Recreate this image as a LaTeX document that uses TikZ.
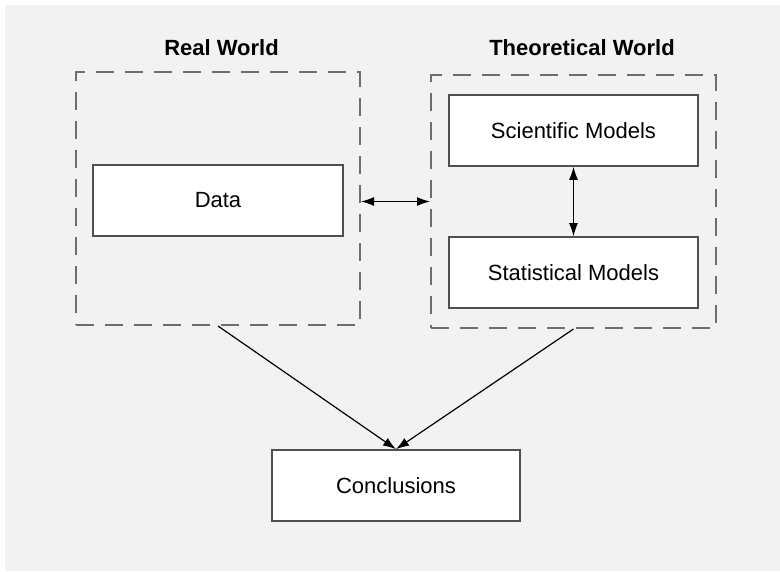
\documentclass[tikz,border=0pt]{standalone}
\usepackage{fontspec}
\setmainfont{Liberation Sans}
\usetikzlibrary{arrows.meta}
\definecolor{bgc}{HTML}{F2F2F2}
\definecolor{boxc}{HTML}{505050}
\definecolor{dashc}{HTML}{6E6E6E}
\begin{document}
\begin{tikzpicture}[x=1pt,y=-1pt,
  txt/.style={font=\fontsize{22}{26}\selectfont},
  ttl/.style={font=\fontsize{22}{26}\selectfont\bfseries},
  region/.style={draw=dashc,line width=2pt,dash pattern=on 18pt off 11pt,minimum width=284pt,minimum height=253pt,inner sep=0pt},
  modbox/.style={draw=boxc,fill=white,line width=1.6pt,minimum height=71pt,inner sep=0pt,txt},
  arr/.style={line width=1.2pt,-{Latex[length=13pt,width=9pt]}},
  darr/.style={line width=1.2pt,{Latex[length=13pt,width=9pt]}-{Latex[length=13pt,width=9pt]}}]
\useasboundingbox[fill=white] (0,0) rectangle (780,571);
\fill[bgc] (5,5) rectangle (780,571);
\node[region] (rw) at (218,198.5) {};
\node[region,minimum width=285pt] (tw) at (573.5,201.5) {};
\node[ttl] (rwt) at (221.5,48) {Real World};
\node[ttl] (twt) at (582,48) {Theoretical World};
\node[modbox,minimum width=250pt] (data) at (218,200.5) {Data};
\node[modbox,minimum width=249pt] (sci) at (573.5,130.5) {Scientific Models};
\node[modbox,minimum width=249pt] (stat) at (573.5,272.5) {Statistical Models};
\node[modbox,minimum width=248pt] (conc) at (396,485.5) {Conclusions};
\draw[darr] (rw.east |- tw.center) -- (tw.west);
\draw[darr] (sci.south) -- (stat.north);
\draw[arr] (rw.south) -- (conc.north);
\draw[arr] (tw.south) -- (conc.north);
\end{tikzpicture}
\end{document}
